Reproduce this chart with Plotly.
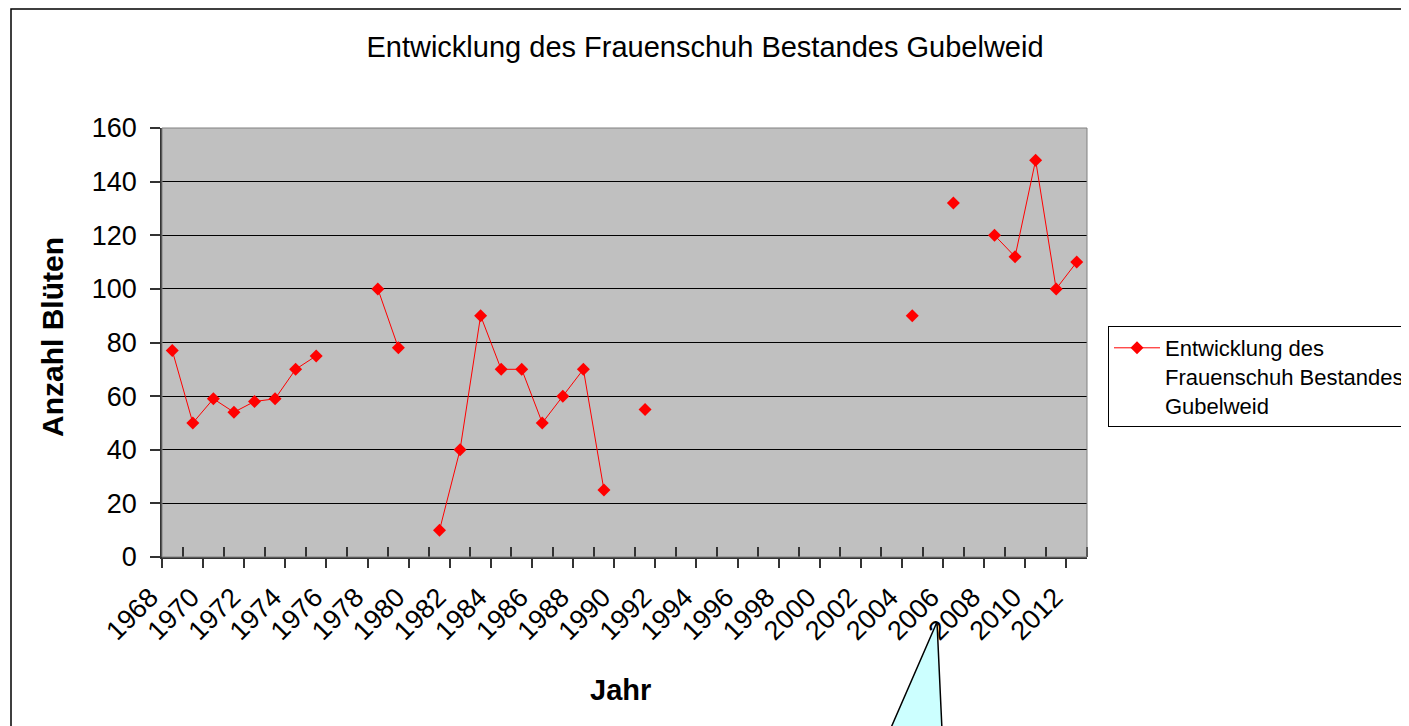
import plotly.graph_objects as go

# ---- data ----
years = [1968, 1969, 1970, 1971, 1972, 1973, 1974, 1975, 1976, 1977,
         1978, 1979, 1980, 1981, 1982, 1983, 1984, 1985, 1986, 1987,
         1988, 1989, 1990, 1991, 1992, 1993, 1994, 1995, 1996, 1997,
         1998, 1999, 2000, 2001, 2002, 2003, 2004, 2005, 2006, 2007,
         2008, 2009, 2010, 2011, 2012]
blueten = [77, 50, 59, 54, 58, 59, 70, 75, None, None,
           100, 78, None, 10, 40, 90, 70, 70, 50, 60,
           70, 25, None, 55, None, None, None, None, None, None,
           None, None, None, None, None, None, 90, None, 132, None,
           120, 112, 148, 100, 110]
label_years = [1968, 1970, 1972, 1974, 1976, 1978, 1980, 1982, 1984, 1986,
               1988, 1990, 1992, 1994, 1996, 1998, 2000, 2002, 2004, 2006,
               2008, 2010, 2012]
y_ticks = [0, 20, 40, 60, 80, 100, 120, 140, 160]

series_name = "Entwicklung des<br>Frauenschuh Bestandes<br>Gubelweid"
title_text = "Entwicklung des Frauenschuh Bestandes Gubelweid"

# page body has an 8px margin; figure coords = window coords - OFF
OFF = 8
W, H = 1409 - OFF, 726 - OFF
ML, MR, MT, MB = 162 - OFF, 322, 128 - OFF, 169
PW, PH = W - ML - MR, H - MT - MB


def px(x):  # window x -> paper
    return (x - OFF - ML) / PW


def py(y):  # window y -> paper
    return (H - MB - (y - OFF)) / PH


FONT = "Liberation Sans, Arial, sans-serif"

idx = list(range(len(years)))
label_pos = [years.index(y) for y in label_years]
major_bounds = [i - 0.5 for i in idx if i % 2 == 0]
minor_bounds = [i - 0.5 for i in idx if i % 2 == 1] + [len(years) - 0.5]

fig = go.Figure()
fig.add_trace(go.Scatter(
    x=idx, y=blueten, mode="lines+markers", name=series_name,
    line=dict(color="#FF0000", width=1),
    marker=dict(symbol="diamond", size=10, color="#FF0000"),
    connectgaps=False, showlegend=True,
))
fig.add_trace(go.Scatter(x=[idx[0]], y=[None], xaxis="x2", showlegend=False,
                         hoverinfo="skip"))

xr = [-0.5, len(years) - 0.5]
fig.update_layout(
    width=W, height=H,
    margin=dict(l=ML, r=MR, t=MT, b=MB, autoexpand=False),
    paper_bgcolor="white", plot_bgcolor="#C0C0C0",
    font=dict(family=FONT, color="black"),
    title=dict(text=title_text, x=(705 - OFF) / W, xref="container",
               xanchor="center", y=1 - (47 - OFF) / H, yref="container",
               yanchor="middle",
               font=dict(size=29, family=FONT, color="black")),
    xaxis=dict(range=xr, tickmode="array", tickvals=label_pos,
               ticktext=[str(y) for y in label_years], tickangle=-45,
               ticks="", showgrid=False, zeroline=False,
               showline=True, linecolor="#333333", linewidth=1.5,
               ticklabelstandoff=12, ticklabelshift=-22,
               tickfont=dict(size=27, family=FONT, color="black")),
    xaxis2=dict(range=xr, overlaying="x", anchor="y", side="bottom",
                tickmode="array", tickvals=major_bounds, ticks="outside",
                ticklen=10, tickcolor="#333333", tickwidth=1.5,
                showticklabels=False, showgrid=False, zeroline=False,
                showline=False,
                minor=dict(tickmode="array", tickvals=minor_bounds,
                           ticks="inside", ticklen=10, tickcolor="#333333",
                           tickwidth=1.5, showgrid=False)),
    yaxis=dict(range=[0, 160], tickmode="array", tickvals=y_ticks,
               ticks="outside", ticklen=10, tickcolor="#333333", tickwidth=1.5,
               showgrid=True, gridcolor="black", gridwidth=1,
               zeroline=False, showline=True, linecolor="#333333", linewidth=1.5,
               ticklabelstandoff=8,
               tickfont=dict(size=27, family=FONT, color="black")),
    legend=dict(x=px(1108), y=py(326), xanchor="left", yanchor="top",
                bgcolor="white", bordercolor="black", borderwidth=1,
                font=dict(size=22, family=FONT, color="black"),
                valign="top", itemwidth=46),
    annotations=[
        dict(text="<b>Anzahl Blüten</b>", textangle=-90, x=px(52), y=py(337),
             xref="paper", yref="paper", showarrow=False,
             xanchor="center", yanchor="middle",
             font=dict(size=30, family=FONT, color="black")),
        dict(text="<b>Jahr</b>", x=px(620), y=py(690), xref="paper",
             yref="paper", showarrow=False, xanchor="center", yanchor="middle",
             font=dict(size=29, family=FONT, color="black")),
    ],
    shapes=[
        dict(type="rect", xref="paper", yref="paper",
             x0=px(11), y0=py(760), x1=px(1440), y1=py(9),
             line=dict(color="black", width=1.5), layer="above"),
        dict(type="rect", xref="paper", yref="paper", x0=0, y0=0, x1=1, y1=1,
             line=dict(color="#808080", width=1), layer="above"),
        dict(type="path", xref="paper", yref="paper",
             path=f"M {px(937)} {py(622)} L {px(890)} {py(730)} L {px(942)} {py(730)} Z",
             fillcolor="#CCFFFF", line=dict(color="black", width=1.5),
             layer="above"),
    ],
)
fig.write_html("out.html")
